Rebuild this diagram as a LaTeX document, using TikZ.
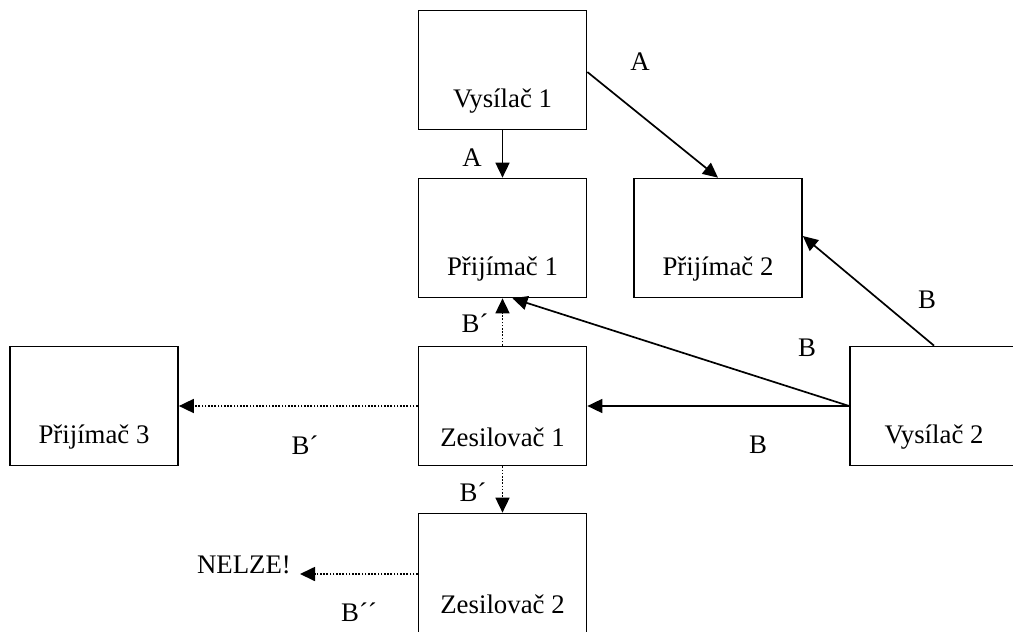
\documentclass[tikz,border=0pt]{standalone}
\usepackage{fontspec}
\setmainfont{Liberation Serif}
\usetikzlibrary{arrows.meta}
\begin{document}
\begin{tikzpicture}[x=1pt,y=-1pt,
  font=\fontsize{26.8}{31}\selectfont,
  unit/.style={draw, line width=1.7pt, minimum width=168pt, minimum height=119pt,
    inner sep=0pt, label={[yshift=-31pt, inner sep=0pt]center:#1}},
  sig/.style={line width=1.7pt, -{Triangle[length=15pt,width=14pt]}},
  relay/.style={sig, dash pattern=on 1.6pt off 1.6pt},
  tag/.style={inner sep=0pt}]
\useasboundingbox (0,0) rectangle (1013,632);

% devices
\node[unit={Vysílač 1}]   (V1) at (502.5,70)  {};
\node[unit={Přijímač 1}]  (P1) at (502.5,238) {};
\node[unit={Přijímač 2}]  (P2) at (718,238)   {};
\node[unit={Přijímač 3}]  (P3) at (94,406)    {};
\node[unit={Zesilovač 1}] (Z1) at (502.5,406) {};
\node[unit={Vysílač 2}]   (V2) at (934,406)   {};
\node[unit={Zesilovač 2}] (Z2) at (502.5,573) {};
\node[tag] (N) at (244,565) {NELZE!};
\coordinate (Nend) at (300,574);

% direct signals
\draw[sig] (V1.south) -- (P1.north);
\draw[sig] ([yshift=-2pt]V1.east) -- (P2.north);
\draw[sig] (V2.north) -- ([yshift=2pt]P2.east);
\draw[sig] (V2.west) -- ([xshift=10pt]P1.south);
\draw[sig] (V2.west) -- (Z1.east);

% relayed signals
\draw[relay] (Z1.north) -- (P1.south);
\draw[relay] (Z1.west) -- (P3.east);
\draw[relay] (Z1.south) -- (Z2.north);
\draw[relay] (Z2.west |- Nend) -- (Nend);

% signal labels
\node[tag] (a1) at (472,158) {A};
\node[tag] (a2) at (640,62)  {A};
\node[tag] (b1) at (927,300) {B};
\node[tag] (b2) at (807,348) {B};
\node[tag] (b3) at (758,445) {B};
\node[tag] (c1) at (475,323) {B´};
\node[tag] (c2) at (305,445) {B´};
\node[tag] (c3) at (473,492) {B´};
\node[tag] (d1) at (359,612) {B´´};
\end{tikzpicture}
\end{document}
